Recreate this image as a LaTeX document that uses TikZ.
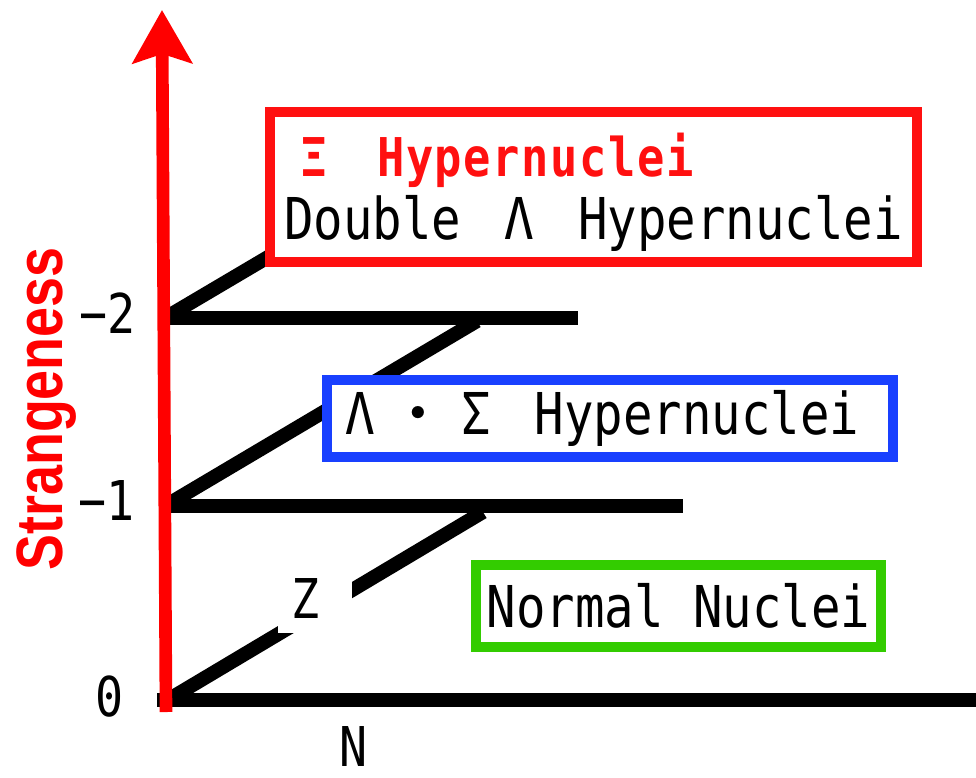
\documentclass[tikz,border=0pt]{standalone}
\usepackage{fontspec}
\setmainfont{DejaVu Sans Mono}[FakeStretch=0.85]
\newfontfamily\labelfont{Liberation Sans}[FakeStretch=0.82]
\newfontfamily\cjk{Noto Sans CJK JP}
\usepackage{tikz}
\usetikzlibrary{arrows.meta,positioning}
\definecolor{axisred}{RGB}{255,0,0}
\definecolor{boxred}{RGB}{255,16,16}
\definecolor{boxblue}{RGB}{25,64,255}
\definecolor{boxgreen}{RGB}{51,204,0}
% greek letters take two cells
\newcommand{\wide}[1]{\hspace{0.25em}#1\hspace{0.25em}}

\begin{document}
\begin{tikzpicture}[
  x=0.025cm,y=-0.025cm,
  level/.style={line width=10pt},
  axis/.style={draw=axisred,line width=9pt,
    -{Stealth[length=37.7pt,width=42pt,inset=6.5pt]}},
  box/.style={rectangle,draw,fill=white,line width=7pt,inner sep=0pt,
    font=\fontsize{41}{45}\selectfont},
  tick/.style={inner sep=0pt,font=\fontsize{39}{42}\selectfont}
]
  \useasboundingbox (0,0) rectangle (976,778);
  \coordinate (o) at (157,700);
  \coordinate (nend) at (976,700);
  \coordinate (l1a) at (168,506);
  \coordinate (l1b) at (683,506);
  \coordinate (l2a) at (168,318);
  \coordinate (l2b) at (578,318);
  \coordinate (d0a) at (171,698);
  \coordinate (d0b) at (483,512);
  \coordinate (d1a) at (170,503);
  \coordinate (d1b) at (477,321);
  \coordinate (d2a) at (170,315);
  \coordinate (d2b) at (478,133);
  \draw[level] (o)--(nend);
  \draw[level] (l1a)--(l1b);
  \draw[level] (l2a)--(l2b);
  \draw[level] (d0a)--(d0b);
  \draw[level] (d1a)--(d1b);
  \draw[level] (d2a)--(d2b);

  \node[box,draw=boxred,align=left,minimum width=16.175cm,
    minimum height=3.75cm] (xi) at (593.5,187)
    {{\color{boxred}\bfseries\fontsize{38}{40}\selectfont
      \addfontfeature{LetterSpace=3}\rule{0pt}{38pt}%
      \hspace{0.4cm}Ξ\hspace{0.52cm} Hypernuclei}\\
     Double \wide{Λ} Hypernuclei};
  \node[box,draw=boxblue,minimum width=14.15cm,minimum height=1.925cm]
    (ls) at (610,418.5)
    {\wide{Λ}{\cjk ・}\wide{Σ} Hypernuclei\kern0.75cm};
  \node[box,draw=boxgreen,minimum width=10.125cm,minimum height=2.05cm]
    (nn) at (678.5,606) {Normal Nuclei};
  \node[tick,fill=white,minimum width=1.85cm,minimum height=1.7cm]
    (z) at (315,599) {Z\kern0.45cm};

  \draw[axis] (166,712) coordinate (ybot) -- (162,10) coordinate (ytop);

  \node[tick] (s0) at (110,697) {0};
  \node[tick] (s1) at (107,501) {−1};
  \node[tick] (s2) at (108,313) {−2};
  \node[tick] (n) at (354,747) {N};
  \node[rotate=90,anchor=base,inner sep=0pt,text=axisred,
    font=\labelfont\bfseries\fontsize{46.7}{50}\selectfont]
    (strange) at (62,409) {Strangeness};
\end{tikzpicture}
\end{document}
